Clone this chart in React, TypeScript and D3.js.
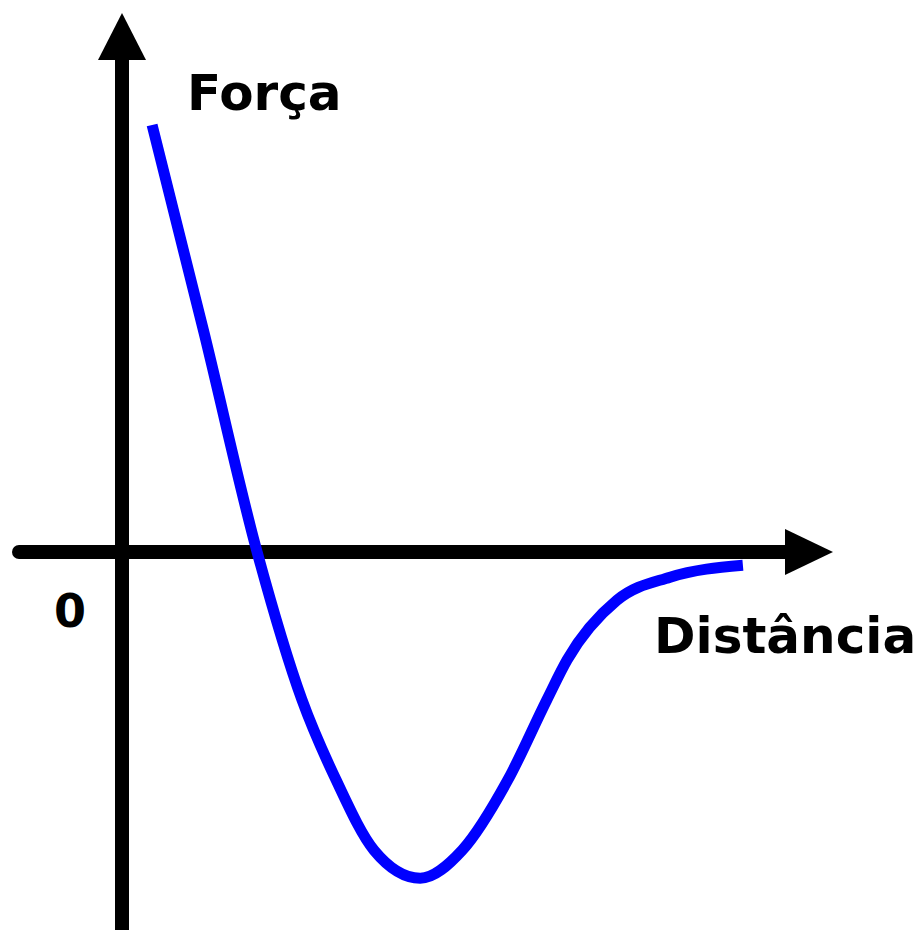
import React from "react";
import * as d3 from "d3";

// Curve samples: distance (arbitrary units) and force (arbitrary units)
const distance = [0.43, 1.17, 1.93, 2.57, 3.06, 3.6, 4.26, 4.86, 5.51, 6.07, 6.36, 7.07, 7.83, 8.87];
const force = [6.1, 3.14, 0, -2.11, -3.26, -4.26, -4.66, -4.26, -3.26, -2.11, -1.54, -0.69, -0.36, -0.19];

const yLabel = "Força";
const xLabel = "Distância";
const originLabel = "0";

const W = 921;
const H = 930;

export default function App() {
  const x = d3.scaleLinear().domain([0, 10]).range([122, 822]);
  const y = d3.scaleLinear().domain([0, 1]).range([552, 482]);

  const pts: [number, number][] = distance.map((d, i) => [d, force[i]]);
  const line = d3
    .line<[number, number]>()
    .x((d) => x(d[0]))
    .y((d) => y(d[1]))
    .curve(d3.curveMonotoneX);

  const x0 = x(0);
  const y0 = y(0);
  const font = "'DejaVu Sans', Verdana, sans-serif";

  return (
    <svg
      width={W}
      height={H}
      style={{ position: "absolute", left: 0, top: 0, display: "block", background: "#fff" }}
    >
      {/* horizontal axis */}
      <line x1={19} y1={y0} x2={792} y2={y0} stroke="#000" strokeWidth={14} strokeLinecap="round" />
      <polygon points={`${785},${y0 - 23} ${833},${y0} ${785},${y0 + 23}`} fill="#000" />
      {/* vertical axis */}
      <line x1={x0} y1={H + 10} x2={x0} y2={55} stroke="#000" strokeWidth={14} />
      <polygon points={`${x0 - 24},${60} ${x0},${13} ${x0 + 24},${60}`} fill="#000" />
      {/* curve */}
      <path d={line(pts) || ""} fill="none" stroke="#0000ff" strokeWidth={11} strokeLinejoin="round" />
      {/* labels */}
      <text x={187} y={110} fontFamily={font} fontWeight="bold" fontSize={50} fill="#000">
        {yLabel}
      </text>
      <text x={654} y={653} fontFamily={font} fontWeight="bold" fontSize={50} fill="#000">
        {xLabel}
      </text>
      <text x={54} y={627} fontFamily={font} fontWeight="bold" fontSize={46} fill="#000">
        {originLabel}
      </text>
    </svg>
  );
}
